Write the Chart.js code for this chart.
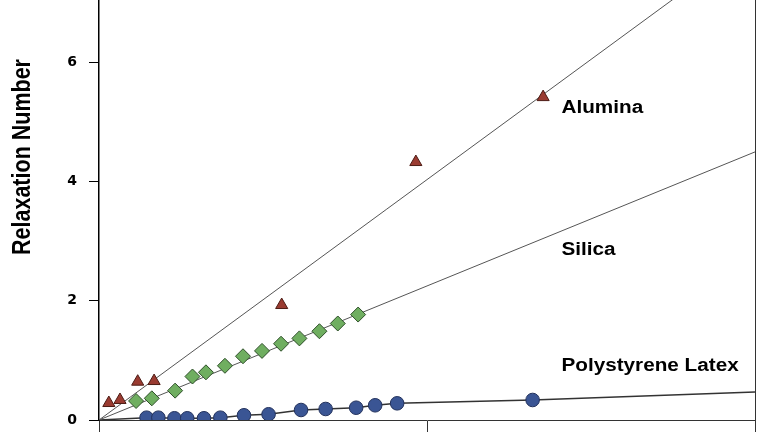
<!DOCTYPE html>
<html>
<head>
<meta charset="utf-8">
<script src="https://cdn.jsdelivr.net/npm/chart.js@4"></script>
<style>
  html, body { margin: 0; padding: 0; background: #fff; }
  canvas { display: block; }
</style>
</head>
<body>
<canvas id="c" width="768" height="432"></canvas>
<script>
// ---- data ----
const aluminaX = [0.030, 0.064, 0.118, 0.168, 0.557, 0.966, 1.354];
const aluminaY = [0.285, 0.336, 0.643, 0.654, 1.93, 4.33, 5.42];

const silicaX = [0.113, 0.161, 0.232, 0.285, 0.326, 0.384, 0.439, 0.497, 0.555, 0.611, 0.672, 0.728, 0.790];
const silicaY = [0.319, 0.364, 0.493, 0.73, 0.80, 0.91, 1.07, 1.16, 1.28, 1.37, 1.49, 1.62, 1.77];

const latexX = [0.145, 0.181, 0.230, 0.269, 0.320, 0.370, 0.442, 0.517, 0.616, 0.691, 0.784, 0.842, 0.909, 1.322];
const latexY = [0.039, 0.039, 0.029, 0.029, 0.029, 0.039, 0.079, 0.096, 0.168, 0.185, 0.206, 0.247, 0.28, 0.336];

// fit lines (start / end values)
const aluminaFitX = [0, 2];
const aluminaFitY = [0, 8.07];
const silicaFitX = [0, 2];
const silicaFitY = [0, 4.50];
const latexFitStart = [0, 0];
const latexFitEnd = [2, 0.47];

const seriesNames = ["Alumina", "Silica", "Polystyrene Latex"];
const labelAnchorX = [1.41, 1.41, 1.41];
const labelAnchorY = [5.24, 2.86, 0.90];
const yTitle = "Relaxation Number";
const xTicks = [0, 1, 2];
const yTicks = [0, 2, 4, 6];

const pts = (xs, ys) => xs.map((x, i) => ({ x: x, y: ys[i] }));

const latexLine = [{ x: latexFitStart[0], y: latexFitStart[1] }]
  .concat(pts(latexX, latexY))
  .concat([{ x: latexFitEnd[0], y: latexFitEnd[1] }]);

const FONT = '"Liberation Sans", Arial, sans-serif';

const textPlugin = {
  id: 'texts',
  afterDraw(chart) {
    const ctx = chart.ctx;
    const xs = chart.scales.x, ys = chart.scales.y;
    const ca = chart.chartArea;
    ctx.save();
    // right border
    ctx.strokeStyle = '#333';
    ctx.lineWidth = 1;
    ctx.beginPath();
    ctx.moveTo(Math.round(ca.right) + 0.5, 0);
    ctx.lineTo(Math.round(ca.right) + 0.5, ca.bottom);
    ctx.stroke();

    // series labels
    ctx.fillStyle = '#000';
    ctx.font = 'bold 18px ' + FONT;
    ctx.textAlign = 'left';
    ctx.textBaseline = 'middle';
    seriesNames.forEach((name, i) => {
      const px = xs.getPixelForValue(labelAnchorX[i]);
      const py = ys.getPixelForValue(labelAnchorY[i]);
      ctx.save();
      ctx.translate(px, py);
      ctx.scale(1.15, 1);
      ctx.fillText(name, 0, 0);
      ctx.restore();
    });

    // y title
    ctx.save();
    ctx.translate(23, 157);
    ctx.rotate(-Math.PI / 2);
    ctx.scale(0.86, 1);
    ctx.font = 'bold 25px ' + FONT;
    ctx.textAlign = 'center';
    ctx.textBaseline = 'middle';
    ctx.fillText(yTitle, 0, 0);
    ctx.restore();
    ctx.restore();
  }
};

new Chart(document.getElementById('c'), {
  type: 'scatter',
  data: {
    datasets: [
      {
        label: seriesNames[0], data: pts(aluminaX, aluminaY), order: 1,
        pointStyle: 'triangle', pointRadius: 7, pointHoverRadius: 7,
        backgroundColor: '#9a3b31', borderColor: '#4d1c15', borderWidth: 1
      },
      {
        label: seriesNames[1], data: pts(silicaX, silicaY), order: 1,
        pointStyle: 'rectRot', pointRadius: 7.5, pointHoverRadius: 7.5,
        backgroundColor: '#6fae60', borderColor: '#2e4f29', borderWidth: 1
      },
      {
        label: seriesNames[2], data: pts(latexX, latexY), order: 1,
        pointStyle: 'circle', pointRadius: 6.8, pointHoverRadius: 6.8,
        backgroundColor: '#3a5594', borderColor: '#22315c', borderWidth: 1
      },
      {
        type: 'line', label: 'aluminaFit', data: pts(aluminaFitX, aluminaFitY), order: 2,
        borderColor: '#555', borderWidth: 1, pointRadius: 0, fill: false, tension: 0
      },
      {
        type: 'line', label: 'silicaFit', data: pts(silicaFitX, silicaFitY), order: 2,
        borderColor: '#555', borderWidth: 1, pointRadius: 0, fill: false, tension: 0
      },
      {
        type: 'line', label: 'latexFit', data: latexLine, order: 2,
        borderColor: '#333', borderWidth: 1.5, pointRadius: 0, fill: false, tension: 0
      }
    ]
  },
  options: {
    responsive: false,
    animation: false,
    events: [],
    layout: { autoPadding: false, padding: { top: 0, right: 13, bottom: 0, left: 0 } },
    plugins: { legend: { display: false }, tooltip: { enabled: false } },
    scales: {
      x: {
        type: 'linear', min: 0, max: 2,
        afterBuildTicks: s => { s.ticks = xTicks.map(v => ({ value: v })); },
        ticks: { display: false },
        grid: { drawOnChartArea: false, drawTicks: true, tickLength: 12, color: '#333', lineWidth: 1 },
        border: { display: true, color: '#333', width: 1 },
        afterFit: s => { s.height = 12; s.paddingLeft = 0; s.paddingRight = 0; }
      },
      y: {
        type: 'linear', min: 0, max: 7.05,
        afterBuildTicks: s => { s.ticks = yTicks.map(v => ({ value: v })); },
        ticks: { color: '#000', font: { family: '"DejaVu Sans", sans-serif', size: 14, weight: 'bold' }, padding: 12 },
        grid: { drawOnChartArea: false, drawTicks: true, tickLength: 10, color: '#000', lineWidth: 1 },
        border: { display: true, color: '#000', width: 1.5 },
        afterFit: s => { s.width = 99; s.paddingTop = 0; s.paddingBottom = 0; }
      }
    }
  },
  plugins: [textPlugin]
});
</script>
</body>
</html>
